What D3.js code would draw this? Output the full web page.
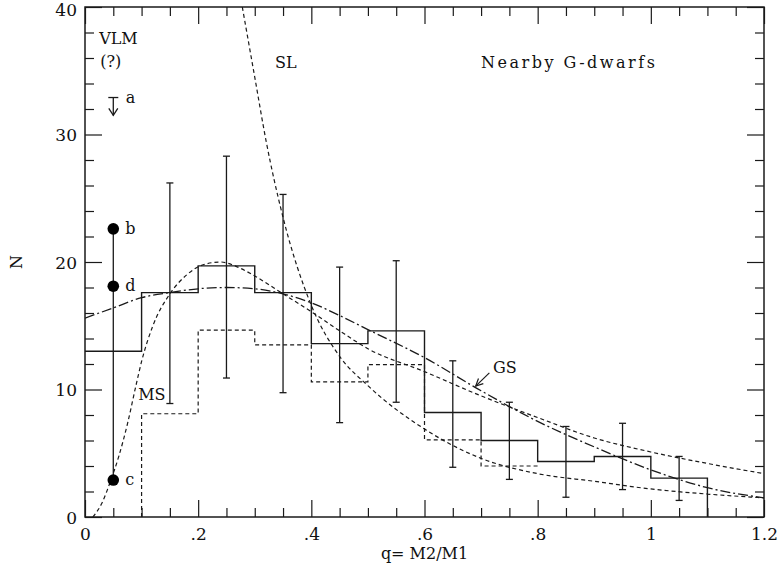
<!DOCTYPE html>
<html>
<head>
<meta charset="utf-8">
<script src="https://cdn.jsdelivr.net/npm/d3@7"></script>
<style>
  body { margin: 0; background: #fff; }
  svg text { font-family: "DejaVu Serif", serif; fill: #111; }
</style>
</head>
<body>
<svg id="chart" width="781" height="567"></svg>
<script>
// Data
var binEdges = [0, 0.1, 0.2, 0.3, 0.4, 0.5, 0.6, 0.7, 0.8, 0.9, 1.0, 1.1];
var solidN   = [13.0, 17.6, 19.7, 17.6, 13.6, 14.6, 8.2, 6.0, 4.35, 4.75, 3.05];
var dashEdges = [0.1, 0.2, 0.3, 0.4, 0.5, 0.6, 0.7, 0.8];
var dashN     = [8.1, 14.65, 13.5, 10.6, 11.95, 6.05, 4.0];

var errQ  = [0.15, 0.25, 0.35, 0.45, 0.55, 0.65, 0.75, 0.85, 0.95, 1.05];
var errLo = [8.9, 10.9, 9.75, 7.4, 9.0, 3.9, 2.95, 1.55, 2.15, 1.3];
var errHi = [26.2, 28.3, 25.3, 19.6, 20.1, 12.25, 9.0, 7.1, 7.35, 4.75];

var vlmQ = 0.05;
var vlmN = [22.6, 18.1, 2.9];
var vlmLabels = ["b", "d", "c"];
var limitN = [32.9, 31.5]; // upper limit "a": bar, arrow tip

var gsQ = [0, 0.05, 0.1, 0.15, 0.2, 0.25, 0.3, 0.35, 0.4, 0.45, 0.5, 0.6, 0.7, 0.8, 0.9, 1.0, 1.1, 1.2];
var gsN = [15.6, 16.4, 17.2, 17.6, 17.9, 18.0, 17.9, 17.5, 16.8, 15.8, 14.7, 12.5, 9.9, 7.5, 5.5, 3.7, 2.3, 1.5];

var msQ = [0.014, 0.03, 0.045, 0.06, 0.075, 0.09, 0.1, 0.12, 0.15, 0.18, 0.21, 0.24, 0.27, 0.3, 0.35, 0.4, 0.45, 0.5, 0.6, 0.7, 0.8, 0.9, 1.0, 1.1, 1.2];
var msN = [0, 1.1, 2.8, 4.8, 7.3, 10.3, 12.2, 15.0, 17.5, 19.0, 19.8, 20.0, 19.6, 18.9, 17.5, 16.1, 14.6, 13.2, 11.4, 9.5, 7.8, 6.2, 5.1, 4.2, 3.4];

var slQ = [0.278, 0.29, 0.3, 0.32, 0.35, 0.4, 0.45, 0.5, 0.6, 0.7, 0.8, 0.9, 1.0, 1.1, 1.2];
var slN = [40, 37, 34.5, 29.5, 23.5, 16.6, 12.6, 10.3, 6.9, 4.6, 3.4, 2.8, 2.2, 1.8, 1.5];

var xTickValues = [0, 0.2, 0.4, 0.6, 0.8, 1.0, 1.2];
var xTickLabels = ["0", ".2", ".4", ".6", ".8", "1", "1.2"];
var yTickValues = [0, 10, 20, 30, 40];
var yTickLabels = ["0", "10", "20", "30", "40"];

// text labels placed in data units
var notes = [
  { t: "VLM", q: 0.025, n: 37.1 },
  { t: "(?)", q: 0.027, n: 35.3 },
  { t: "SL", q: 0.336, n: 35.2 },
  { t: "Nearby G-dwarfs", q: 0.70, n: 35.2, spacing: 2.5 },
  { t: "a", q: 0.072, n: 32.5 },
  { t: "MS", q: 0.094, n: 9.2 },
  { t: "GS", q: 0.721, n: 11.3 }
];
var gsArrow = { q0: 0.7146, n0: 11.3, q1: 0.6905, n1: 10.27 };

// Dimensions
var dim = { left: 85, right: 764, top: 7, bottom: 517 };
var svg = d3.select("#chart");
var ink = "#1a1a1a";

var xScale = d3.scaleLinear().domain([0, 1.2]).range([dim.left, dim.right]);
var yScale = d3.scaleLinear().domain([0, 40]).range([dim.bottom, dim.top]);

svg.append("defs").append("clipPath").attr("id", "plotclip")
   .append("rect")
   .attr("x", dim.left).attr("y", dim.top)
   .attr("width", dim.right - dim.left).attr("height", dim.bottom - dim.top);

// Axes: major + minor ticks on all four sides, pointing inward
var xMinor = d3.range(0, 1.2001, 0.05).filter(function(v) { return Math.abs(v / 0.2 - Math.round(v / 0.2)) > 0.01; });
var yMinor = d3.range(0, 40.001, 2).filter(function(v) { return v % 10 != 0; });

function addAxis(axis, tx, ty) {
  var g = svg.append("g")
     .attr("transform", "translate(" + tx + "," + ty + ")")
     .call(axis);
  g.select(".domain").remove();
  g.selectAll(".tick line").attr("stroke", ink).attr("stroke-width", 1.2);
  g.selectAll(".tick text").style("font-size", "17px").attr("fill", ink);
  return g;
}

addAxis(d3.axisBottom(xScale).tickValues(xTickValues).tickSize(-17).tickPadding(11)
          .tickFormat(function(d, i) { return xTickLabels[i]; }), 0, dim.bottom);
addAxis(d3.axisBottom(xScale).tickValues(xMinor).tickSize(-9).tickFormat(""), 0, dim.bottom);
addAxis(d3.axisTop(xScale).tickValues(xTickValues).tickSize(-17).tickFormat(""), 0, dim.top);
addAxis(d3.axisTop(xScale).tickValues(xMinor).tickSize(-9).tickFormat(""), 0, dim.top);
var yAx = addAxis(d3.axisLeft(yScale).tickValues(yTickValues).tickSize(-17).tickPadding(8)
          .tickFormat(function(d, i) { return yTickLabels[i]; }), dim.left, 0);
// keep the top label ("40") inside the page
yAx.selectAll(".tick text").attr("dy", "0.38em")
   .attr("y", function(d) { return d == 40 ? 2.5 : 0; });
addAxis(d3.axisLeft(yScale).tickValues(yMinor).tickSize(-9).tickFormat(""), dim.left, 0);
addAxis(d3.axisRight(yScale).tickValues(yTickValues).tickSize(-17).tickFormat(""), dim.right, 0);
addAxis(d3.axisRight(yScale).tickValues(yMinor).tickSize(-9).tickFormat(""), dim.right, 0);

svg.append("rect")
   .attr("x", dim.left).attr("y", dim.top)
   .attr("width", dim.right - dim.left).attr("height", dim.bottom - dim.top)
   .attr("fill", "none").attr("stroke", ink).attr("stroke-width", 1.5);

// Axis titles
svg.append("text")
   .attr("x", xScale(0.6)).attr("y", 559)
   .attr("text-anchor", "middle")
   .style("font-size", "16px")
   .text("q= M2/M1");
svg.append("text")
   .attr("transform", "translate(22," + yScale(20) + ") rotate(-90)")
   .attr("text-anchor", "middle")
   .style("font-size", "16px")
   .text("N");

var plot = svg.append("g").attr("clip-path", "url(#plotclip)");

// Histograms
var step = d3.line()
   .x(function(d) { return xScale(d[0]); })
   .y(function(d) { return yScale(d[1]); })
   .curve(d3.curveStepAfter);

var solidPts = solidN.map(function(n, i) { return [binEdges[i], n]; });
solidPts.push([binEdges[binEdges.length - 1], solidN[solidN.length - 1]]);
solidPts.push([binEdges[binEdges.length - 1], 0]);
plot.append("path")
   .datum(solidPts)
   .attr("d", step)
   .attr("fill", "none").attr("stroke", ink).attr("stroke-width", 1.4);

var dashPts = [[dashEdges[0], 0]].concat(dashN.map(function(n, i) { return [dashEdges[i], n]; }));
dashPts.push([dashEdges[dashEdges.length - 1], dashN[dashN.length - 1]]);
plot.append("path")
   .datum(dashPts)
   .attr("d", step)
   .attr("fill", "none").attr("stroke", ink).attr("stroke-width", 1.2)
   .attr("stroke-dasharray", "4,3");

// Model curves
var smooth = d3.line()
   .x(function(d) { return xScale(d[0]); })
   .y(function(d) { return yScale(d[1]); })
   .curve(d3.curveMonotoneX);

function zipQ(q, n) { return q.map(function(v, i) { return [v, n[i]]; }); }

plot.append("path").datum(zipQ(msQ, msN)).attr("d", smooth)
   .attr("fill", "none").attr("stroke", ink).attr("stroke-width", 1.2)
   .attr("stroke-dasharray", "4,3");
plot.append("path").datum(zipQ(slQ, slN)).attr("d", smooth)
   .attr("fill", "none").attr("stroke", ink).attr("stroke-width", 1.2)
   .attr("stroke-dasharray", "4,3");
plot.append("path").datum(zipQ(gsQ, gsN)).attr("d", smooth)
   .attr("fill", "none").attr("stroke", ink).attr("stroke-width", 1.3)
   .attr("stroke-dasharray", "10,3,2,3");

// Error bars
var eb = plot.append("g").attr("stroke", ink).attr("stroke-width", 1.3);
errQ.forEach(function(q, i) {
  var x = xScale(q);
  eb.append("line").attr("x1", x).attr("x2", x)
    .attr("y1", yScale(errLo[i])).attr("y2", yScale(errHi[i]));
  [errLo[i], errHi[i]].forEach(function(n) {
    eb.append("line").attr("x1", x - 3.5).attr("x2", x + 3.5)
      .attr("y1", yScale(n)).attr("y2", yScale(n));
  });
});

// VLM points b, d, c joined by a line
plot.append("line")
   .attr("x1", xScale(vlmQ)).attr("x2", xScale(vlmQ))
   .attr("y1", yScale(d3.max(vlmN))).attr("y2", yScale(d3.min(vlmN)))
   .attr("stroke", ink).attr("stroke-width", 1.3);
plot.selectAll("circle.vlm")
   .data(vlmN)
   .enter()
   .append("circle")
   .attr("class", "vlm")
   .attr("cx", xScale(vlmQ))
   .attr("cy", function(d) { return yScale(d); })
   .attr("r", 5.8)
   .attr("fill", "#000");
svg.selectAll("text.vlm")
   .data(vlmN)
   .enter()
   .append("text")
   .attr("class", "vlm")
   .attr("x", xScale(vlmQ) + 12)
   .attr("y", function(d) { return yScale(d) + 5; })
   .style("font-size", "16px")
   .text(function(d, i) { return vlmLabels[i]; });

// Upper limit "a"
var ax = xScale(vlmQ);
var ul = svg.append("g").attr("stroke", ink).attr("stroke-width", 1.3).attr("fill", "none");
ul.append("line").attr("x1", ax - 5).attr("x2", ax + 5)
  .attr("y1", yScale(limitN[0])).attr("y2", yScale(limitN[0]));
ul.append("line").attr("x1", ax).attr("x2", ax)
  .attr("y1", yScale(limitN[0])).attr("y2", yScale(limitN[1]));
ul.append("path")
  .attr("d", "M" + (ax - 4.5) + "," + (yScale(limitN[1]) - 7) + "L" + ax + "," + yScale(limitN[1]) +
             "L" + (ax + 4.5) + "," + (yScale(limitN[1]) - 7));

// Text notes
svg.selectAll("text.note")
   .data(notes)
   .enter()
   .append("text")
   .attr("class", "note")
   .attr("x", function(d) { return xScale(d.q); })
   .attr("y", function(d) { return yScale(d.n); })
   .style("font-size", "16px")
   .style("letter-spacing", function(d) { return (d.spacing || 0) + "px"; })
   .text(function(d) { return d.t; });

// Arrow from "GS" to its curve
var gx0 = xScale(gsArrow.q0), gy0 = yScale(gsArrow.n0);
var gx1 = xScale(gsArrow.q1), gy1 = yScale(gsArrow.n1);
var ang = Math.atan2(gy0 - gy1, gx0 - gx1);
var arr = svg.append("g").attr("stroke", ink).attr("stroke-width", 1.2).attr("fill", "none");
arr.append("line").attr("x1", gx0).attr("y1", gy0).attr("x2", gx1).attr("y2", gy1);
arr.append("path")
   .attr("d", "M" + (gx1 + 8 * Math.cos(ang - 0.45)) + "," + (gy1 + 8 * Math.sin(ang - 0.45)) +
              "L" + gx1 + "," + gy1 +
              "L" + (gx1 + 8 * Math.cos(ang + 0.45)) + "," + (gy1 + 8 * Math.sin(ang + 0.45)));
</script>
</body>
</html>
